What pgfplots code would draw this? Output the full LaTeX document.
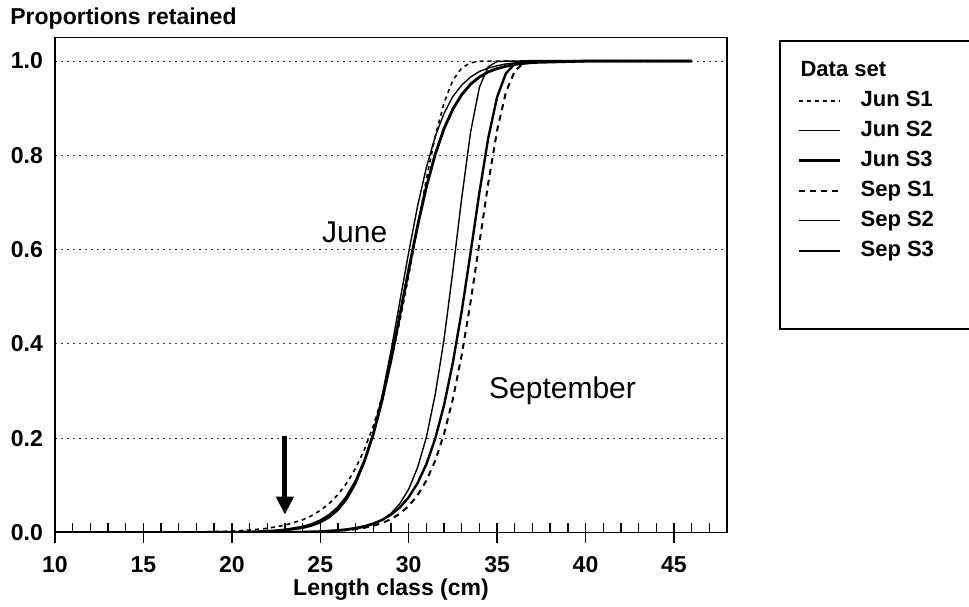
\documentclass[border=0pt]{standalone}
\usepackage{fontspec}
\setmainfont{Liberation Sans}
\usepackage{pgfplots}
\pgfplotsset{compat=1.18}
\usetikzlibrary{arrows.meta}

\begin{document}
\begin{tikzpicture}
\begin{axis}[
  name=ax,
  scale only axis,
  width=336pt, height=247.5pt,
  xmin=10, xmax=48, ymin=0, ymax=1.05,
  axis line style={line width=0.9pt},
  tick pos=left,
  tick align=inside,
  xtick={10,15,...,45},
  minor xtick={11,...,47},
  major tick length=10pt,
  minor tick length=5pt,
  major x tick style={yshift=-5pt, line width=0.7pt, black},
  minor x tick style={line width=0.7pt, black},
  ytick={0,0.2,0.4,0.6,0.8,1.0},
  ytick style={draw=none},
  ymajorgrids,
  major grid style={black!75, line width=0.5pt, dash pattern=on 1pt off 2pt},
  /pgf/number format/assume math mode=true,
  ticklabel style={font=\bfseries\fontsize{11.5}{13}\selectfont},
  yticklabel style={/pgf/number format/.cd, fixed, fixed zerofill, precision=1,
    /tikz/.cd, xshift=-2.5pt},
  xticklabel style={yshift=-8.5pt},
  xlabel={Length class (cm)},
  xlabel style={font=\bfseries\fontsize{11.5}{13}\selectfont,
    at={(axis description cs:0.5,0)}, anchor=center, yshift=-28.5pt},
  legend style={
    at={(1,1)}, anchor=north west, xshift=26pt, yshift=-1.5pt,
    draw=black, line width=0.8pt,
    inner xsep=9pt, inner ysep=9.5pt,
    row sep=4.5pt, column sep=9.5pt,
    nodes={inner sep=0pt, text height=8pt, text depth=2.5pt},
    font=\bfseries\fontsize{11}{13}\selectfont,
  },
  legend cell align=left,
  legend image code/.code={\draw[#1] (0pt,0pt) -- (20.5pt,0pt);},
]

\addlegendimage{empty legend}
\addlegendentry{\hspace*{-30pt}Data set\hspace*{80pt}}

% Jun S1
\addplot[black, line width=0.8pt, dash pattern=on 2pt off 2pt] coordinates {
(10,0) (14,0.0001) (16,0.0003) (18,0.0009) (20,0.0029) (21,0.0051) (22,0.0089)
(23,0.0155) (24,0.0269) (24.5,0.0355) (25,0.0467) (25.5,0.0613) (26,0.0803)
(26.5,0.1049) (27,0.1364) (27.5,0.1763) (28,0.2264) (28.5,0.2880) (29,0.3620)
(29.5,0.4482) (30,0.5446) (30.5,0.6487) (31,0.7494) (31.5,0.8398) (32,0.9113)
(32.5,0.9595) (33,0.9856) (33.5,0.9963) (34,0.9994) (34.5,1.0) (46,1.0)
};
\addlegendentry{Jun S1}

% Jun S2
\addplot[black, line width=0.7pt] coordinates {
(10,0) (16,0.0000) (18,0.0001) (20,0.0003) (21,0.0007) (22,0.0016) (23,0.0038)
(24,0.0088) (24.5,0.0135) (25,0.0204) (25.5,0.031) (26,0.0466) (26.5,0.0697)
(27,0.1025) (27.5,0.149) (28,0.211) (28.5,0.291) (29,0.385) (29.5,0.490)
(30,0.594) (30.5,0.692) (31,0.774) (31.5,0.840) (32,0.889) (32.5,0.925)
(33,0.949) (33.5,0.966) (34,0.978) (34.5,0.985) (35,0.990) (35.5,0.994)
(36,0.996) (37,0.998) (38,0.999) (40,1.0) (46,1.0)
};
\addlegendentry{Jun S2}

% Jun S3
\addplot[black, line width=1.4pt] coordinates {
(10,0) (18,0.0001) (20,0.0005) (21,0.0011) (22,0.0024) (23,0.0053) (24,0.0115)
(24.5,0.0170) (25,0.0249) (25.5,0.0363) (26,0.0527) (26.5,0.0759) (27,0.108)
(27.5,0.152) (28,0.209) (28.5,0.281) (29,0.366) (29.5,0.461) (30,0.557)
(30.5,0.650) (31,0.733) (31.5,0.802) (32,0.857) (32.5,0.898) (33,0.929)
(33.5,0.951) (34,0.966) (34.5,0.977) (35,0.984) (35.5,0.989) (36,0.993)
(37,0.997) (38,0.998) (39,0.999) (40,1.0) (46,1.0)
};
\addlegendentry{Jun S3}

% Sep S1
\addplot[black, line width=1.0pt, dash pattern=on 3pt off 2.5pt] coordinates {
(10,0) (20,0.0001) (22,0.0002) (23,0.0004) (24,0.0009) (25,0.0017) (26,0.0035)
(26.5,0.0050) (27,0.0071) (27.5,0.0100) (28,0.0142) (28.5,0.0201) (29,0.0283)
(29.5,0.0400) (30,0.0563) (30.5,0.0789) (31,0.1101) (31.5,0.1524) (32,0.2093)
(32.5,0.2834) (33,0.3768) (33.5,0.4888) (34,0.6141) (34.5,0.7411) (35,0.8530)
(35.5,0.9342) (36,0.9790) (36.5,0.9958) (37,0.9996) (37.5,1.0) (46,1.0)
};
\addlegendentry{Sep S1}

% Sep S2
\addplot[black, line width=0.7pt] coordinates {
(10,0) (20,0.0000) (22,0.0001) (24,0.0006) (25,0.0014) (26,0.0032) (26.5,0.0049)
(27,0.0075) (27.5,0.0115) (28,0.0174) (28.5,0.0267) (29,0.0404) (29.5,0.0613)
(30,0.0918) (30.5,0.1376) (31,0.2018) (31.5,0.2928) (32,0.4098) (32.5,0.5554)
(33,0.7097) (33.5,0.8492) (34,0.9446) (34.5,0.9880) (35,0.9989) (35.5,1.0) (46,1.0)
};
\addlegendentry{Sep S2}

% Sep S3
\addplot[black, line width=1.2pt] coordinates {
(10,0) (20,0.0001) (22,0.0003) (23,0.0006) (24,0.0012) (25,0.0023) (26,0.0047)
(26.5,0.0067) (27,0.0095) (27.5,0.0134) (28,0.0190) (28.5,0.0268) (29,0.0379)
(29.5,0.0533) (30,0.0748) (30.5,0.1044) (31,0.1449) (31.5,0.1991) (32,0.2702)
(32.5,0.3606) (33,0.4697) (33.5,0.5936) (34,0.7213) (34.5,0.8369) (35,0.9237)
(35.5,0.9740) (36,0.9944) (36.5,0.9994) (37,1.0) (46,1.0)
};
\addlegendentry{Sep S3}

\addlegendimage{empty legend}
\addlegendentry[text depth=12pt]{}

% labels for the two groups of curves
\node[font=\fontsize{15}{18}\selectfont] at (axis cs:26.95,0.636) {June};
\node[font=\fontsize{15}{18}\selectfont] at (axis cs:38.7,0.30) {September};

% arrow marking the 23 cm length class
\draw[line width=2.5pt, -{Triangle[length=9pt,width=8.5pt]}]
  (axis cs:23,0.205) -- (axis cs:23,0.038);
\end{axis}

\node[anchor=west, inner sep=0pt, font=\bfseries\fontsize{11.5}{13}\selectfont]
  at ([xshift=-22.5pt,yshift=9.5pt]ax.north west) {Proportions retained};

\pgfresetboundingbox
\useasboundingbox ([shift={(-27.5pt,-36.75pt)}]ax.south west)
  rectangle ([shift={(457pt,266.25pt)}]ax.south west);
\end{tikzpicture}
\end{document}
